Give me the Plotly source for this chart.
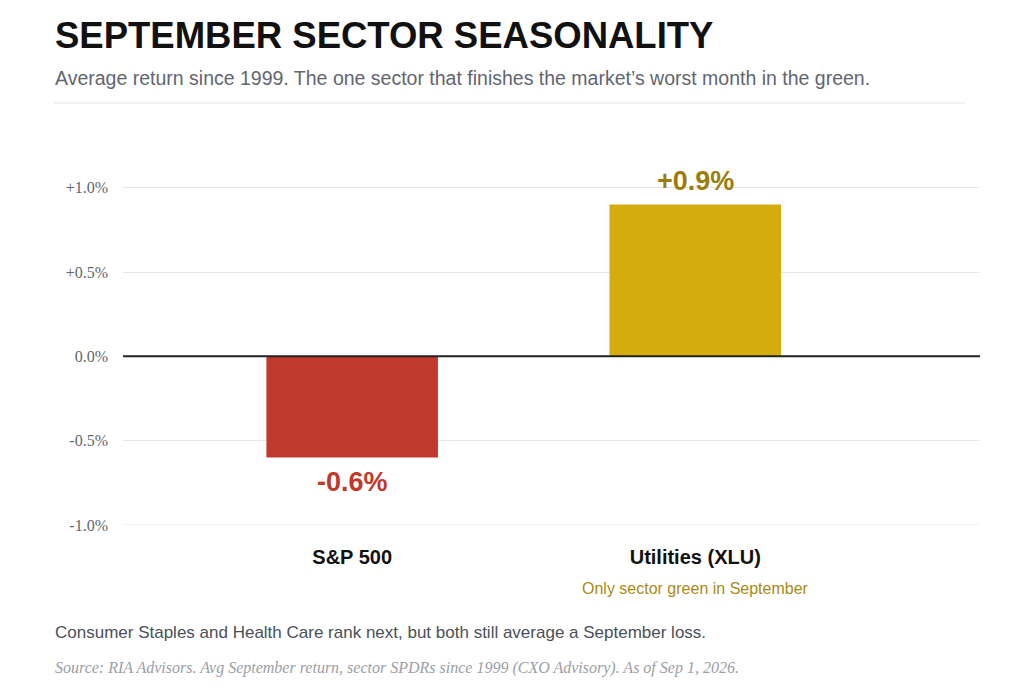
import plotly.graph_objects as go

categories = ["S&P 500", "Utilities (XLU)"]
values = [-0.6, 0.9]
labels = ["-0.6%", "+0.9%"]
bar_colors = ["#c0392b", "#d4ac0d"]
label_colors = ["#c0392b", "#9c7d0c"]
tick_vals = [-1.0, -0.5, 0.0, 0.5, 1.0]
tick_text = ["-1.0%", "-0.5%", "0.0%", "+0.5%", "+1.0%"]
xpos = [0, 1]

OX, OY = 8, 8  # page offset
L, R, T, B = 123 - OX, 980 - OX, 154 - OY, 525 - OY
PW, PH = R - L, B - T

fig = go.Figure()
fig.add_trace(go.Bar(x=xpos, y=values, width=0.5, marker_color=bar_colors,
                     marker_line_width=0, hoverinfo="skip"))
for x, v, t, c in zip(xpos, values, labels, label_colors):
    fig.add_annotation(x=x, y=v, text="<b>%s</b>" % t, showarrow=False,
                       yshift=(-24 if v < 0 else 24),
                       font=dict(family="Liberation Sans", size=27, color=c))

fig.add_annotation(x=1, y=-1.0, yref="y", text="Only sector green in September", showarrow=False,
                   yshift=-63, font=dict(family="Liberation Sans", size=16, color="#a88b13"))

def top_text(text, ypix, size, color, italic=False, family="Liberation Sans"):
    fig.add_annotation(xref="paper", yref="paper", x=(53 - OX - L) / PW, y=(B - (ypix - OY)) / PH,
                       text=text, xanchor="left", yanchor="middle", showarrow=False,
                       font=dict(family=family, size=size, color=color, style="italic" if italic else "normal"))

top_text("<b>SEPTEMBER SECTOR SEASONALITY</b>", 35, 36.5, "#111111")
top_text("Average return since 1999. The one sector that finishes the market’s worst month in the green.", 78, 19.5, "#5f6670")
top_text("Consumer Staples and Health Care rank next, but both still average a September loss.", 632, 17, "#4a5059")
top_text("Source: RIA Advisors. Avg September return, sector SPDRs since 1999 (CXO Advisory). As of Sep 1, 2026.", 668, 16, "#9a9ea5", italic=True, family="Liberation Serif")

fig.add_shape(type="line", xref="paper", yref="paper", x0=(53 - OX - L) / PW, x1=(965 - OX - L) / PW,
              y0=(B - (103 - OY)) / PH, y1=(B - (103 - OY)) / PH, line=dict(color="#e3e3e3", width=1))
fig.add_shape(type="line", xref="paper", yref="y", x0=0, x1=1, y0=0, y1=0, line=dict(color="#222222", width=2))

fig.update_layout(
    width=1024, height=697, paper_bgcolor="white", plot_bgcolor="white",
    margin=dict(l=L, r=1024 - R, t=T, b=697 - B), showlegend=False,
    xaxis=dict(range=[-0.668, 1.83], tickvals=xpos, ticktext=["<b>%s</b>" % c for c in categories],
               showgrid=False, zeroline=False, showline=False, ticks="",
               tickfont=dict(family="Liberation Sans", size=20, color="#111111")),
    yaxis=dict(range=[-1.0, 1.2], tickvals=tick_vals, ticktext=tick_text, showgrid=True,
               gridcolor="#e6e6e6", zeroline=False, showline=False, ticks="",
               tickfont=dict(family="Liberation Serif", size=16, color="#5f6670")),
)
fig.add_shape(type="line", xref="paper", yref="y", x0=0, x1=1, y0=-1.0, y1=-1.0,
              line=dict(color="#e6e6e6", width=1), layer="below")
fig.update_yaxes(ticklabelstandoff=14)
fig.update_xaxes(ticklabelstandoff=18)
fig.write_html("out.html")
